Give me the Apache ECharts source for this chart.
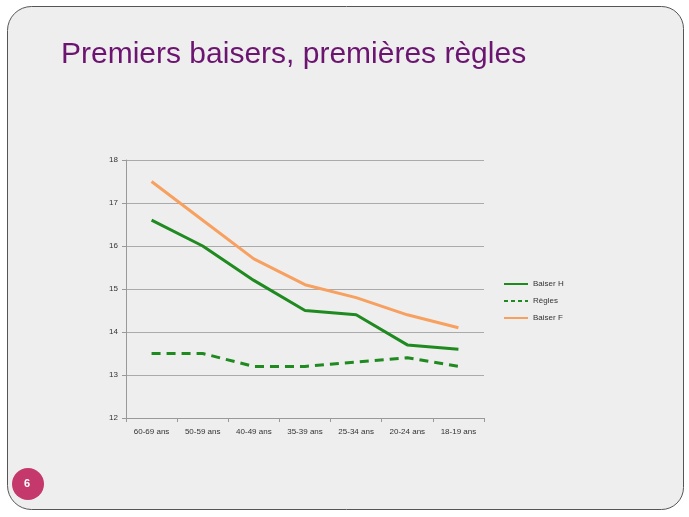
<!DOCTYPE html>
<html><head><meta charset="utf-8">
<script src="https://cdn.jsdelivr.net/npm/echarts@6/dist/echarts.min.js"></script>
<style>html,body{margin:0;padding:0;background:#fff;}#c{width:689px;height:517px;}</style>
</head><body><div id="c"></div>
<script>
var categories = ['60-69 ans','50-59 ans','40-49 ans','35-39 ans','25-34 ans','20-24 ans','18-19 ans'];
var baiserH = [16.6, 16.0, 15.2, 14.5, 14.4, 13.7, 13.6];
var regles = [13.5, 13.5, 13.2, 13.2, 13.3, 13.4, 13.2];
var baiserF = [17.5, 16.6, 15.7, 15.1, 14.8, 14.4, 14.1];
var titleText = 'Premiers baisers, premières règles';
var slideNumber = '6';

var chart = echarts.init(document.getElementById('c'));
var lbl = {fontFamily:'Liberation Sans', fontSize:8, color:'#333'};
var solidIcon = 'path://M0,0L24,0L24,2L0,2Z';
var dashIcon = 'path://M0,0h4v2h-4zM7,0h4v2h-4zM14,0h4v2h-4zM21,0h3v2h-3z';
chart.setOption({
  animation:false,
  graphic:[
    {type:'rect', z:-10, shape:{x:7.5,y:6.5,width:676,height:503,r:[24,22,22,24]}, style:{fill:'#eeeeee', stroke:'#555', lineWidth:1}},
    {type:'circle', z:10, shape:{cx:28,cy:484,r:16}, style:{fill:'#c4386c'}},
    {type:'text', z:11, left:24, top:478, style:{text:slideNumber, fill:'#fff', font:'bold 11px Liberation Sans'}}
  ],
  title:{text:titleText, left:56, top:35, textStyle:{fontFamily:'Liberation Sans', fontSize:30, fontWeight:'normal', color:'#6b1470'}},
  legend:{orient:'vertical', left:499, top:275, itemGap:9, itemWidth:24, itemHeight:2, symbolKeepAspect:false,
    textStyle:lbl,
    data:[{name:'Baiser H', icon:solidIcon},{name:'Règles', icon:dashIcon},{name:'Baiser F', icon:solidIcon}]},
  grid:{left:126, right:205, top:160, bottom:99},
  xAxis:{type:'category', data:categories, boundaryGap:true,
    axisLine:{lineStyle:{color:'#999'}}, axisTick:{show:true, lineStyle:{color:'#999'}, length:4},
    axisLabel:Object.assign({margin:10}, lbl)},
  yAxis:{type:'value', min:12, max:18, interval:1,
    axisLine:{show:true, lineStyle:{color:'#999'}}, axisTick:{show:true, length:4, lineStyle:{color:'#999'}},
    splitLine:{lineStyle:{color:'#aaa'}}, axisLabel:Object.assign({margin:8}, lbl)},
  series:[
    {name:'Baiser H', type:'line', data:baiserH, symbol:'none', lineStyle:{color:'#1f8a1f', width:3}, itemStyle:{color:'#1f8a1f'}},
    {name:'Règles', type:'line', data:regles, symbol:'none', lineStyle:{color:'#1f8a1f', width:3, type:[9,6]}, itemStyle:{color:'#1f8a1f'}},
    {name:'Baiser F', type:'line', data:baiserF, symbol:'none', lineStyle:{color:'#f7a060', width:3}, itemStyle:{color:'#f7a060'}}
  ]
});
</script></body></html>
